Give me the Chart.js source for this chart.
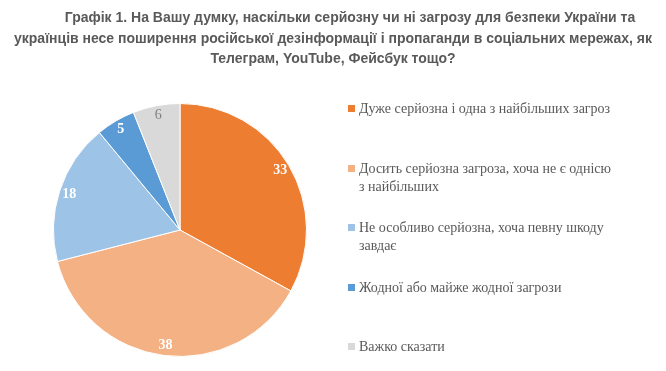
<!DOCTYPE html>
<html>
<head>
<meta charset="utf-8">
<script src="https://cdn.jsdelivr.net/npm/chart.js@4.4.0/dist/chart.umd.min.js"></script>
<style>
body{margin:0;background:#fff;}
#wrap{position:relative;width:666px;height:371px;overflow:hidden;}
#title{position:absolute;left:0;top:7px;width:666px;text-align:center;font:bold 14px "Liberation Sans",Arial,sans-serif;line-height:20.5px;color:#595959;}
#title .l1{display:block;text-indent:34px;}
#legend{position:absolute;left:348px;top:100px;font:14px "Liberation Serif","Times New Roman",serif;color:#595959;}
#legend .item{height:59.5px;line-height:18px;white-space:nowrap;position:relative;padding-left:11px;}
#legend .box{position:absolute;left:0;top:5px;width:7px;height:7px;}
</style>
</head>
<body>
<div id="wrap">
<canvas id="myChart" width="666" height="371"></canvas>
<div id="title"><span class="l1">Графік 1. На Вашу думку, наскільки серйозну чи ні загрозу для безпеки України та</span>українців несе поширення російської дезінформації і пропаганди в соціальних мережах, як<br>Телеграм, YouTube, Фейсбук тощо?</div>
<div id="legend"></div>
</div>
<script>
var labels = [
	['Дуже серйозна і одна з найбільших загроз'],
	['Досить серйозна загроза, хоча не є однісю', 'з найбільших'],
	['Не особливо серйозна, хоча певну шкоду', 'завдає'],
	['Жодної або майже жодної загрози'],
	['Важко сказати']
];
var values = [33, 38, 18, 5, 6];
var colors = ['#ED7D31', '#F4B183', '#9DC3E6', '#5B9BD5', '#D9D9D9'];
var labelColors = ['#fff', '#fff', '#fff', '#fff', '#7F7F7F'];
var labelWeights = ['bold', 'bold', 'bold', 'bold', 'normal'];

// value labels drawn inside each slice, near the edge
var sliceLabels = {
	id: 'sliceLabels',
	afterDatasetsDraw: function(chart){
		var ctx = chart.ctx;
		var meta = chart.getDatasetMeta(0);
		ctx.save();
		ctx.textAlign = 'center';
		ctx.textBaseline = 'middle';
		meta.data.forEach(function(arc, i){
			var p = arc.getProps(['x','y','startAngle','endAngle','outerRadius']);
			var mid = (p.startAngle + p.endAngle) / 2;
			var r = p.outerRadius * 0.92;
			ctx.font = labelWeights[i] + ' 14px "Liberation Serif", serif';
			ctx.fillStyle = labelColors[i];
			ctx.fillText(values[i], p.x + Math.cos(mid) * r, p.y + Math.sin(mid) * r);
		});
		ctx.restore();
	}
};

var ctx = document.getElementById('myChart').getContext('2d');
var chart = new Chart(ctx, {
	type: 'pie',
	data: {
		labels: labels,
		datasets: [{
			data: values,
			backgroundColor: colors,
			borderColor: '#fff',
			borderWidth: 1
		}]
	},
	options: {
		responsive: false,
		animation: false,
		layout: {padding: {left: 53, top: 103, right: 359, bottom: 14}},
		plugins: {
			legend: {display: false},
			title: {display: false},
			tooltip: {enabled: false}
		}
	},
	plugins: [sliceLabels]
});

// html legend so the long labels can wrap like the original
var legend = document.getElementById('legend');
labels.forEach(function(lines, i){
	var item = document.createElement('div');
	item.className = 'item';
	item.innerHTML = '<span class="box" style="background:' + colors[i] + '"></span>' + lines.join('<br>');
	legend.appendChild(item);
});
</script>
</body>
</html>
